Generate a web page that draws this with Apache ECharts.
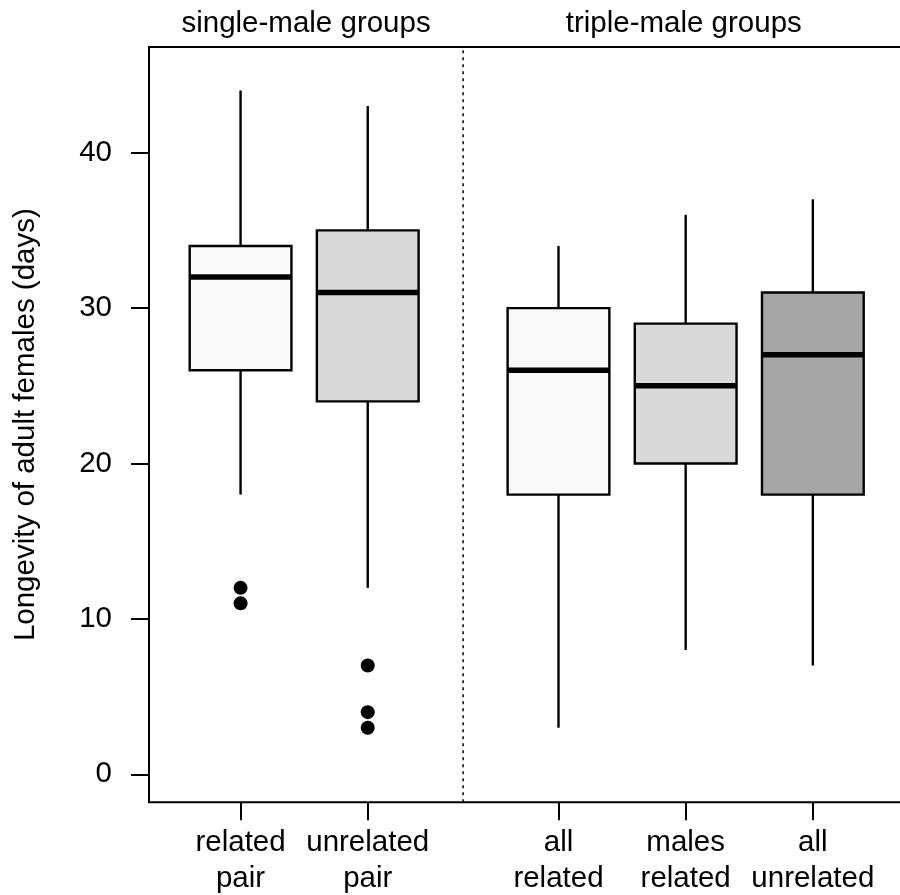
<!DOCTYPE html>
<html>
<head>
<meta charset="utf-8">
<script src="https://cdn.jsdelivr.net/npm/echarts@6/dist/echarts.min.js"></script>
<style>
html,body{margin:0;padding:0;background:#fff;}
#chart{width:900px;height:895px;}
</style>
</head>
<body>
<div id="chart"></div>
<script>
// ---- data ----
const categories = ['related\npair', 'unrelated\npair', 'all\nrelated', 'males\nrelated', 'all\nunrelated'];
const positions = [1, 2, 3.5, 4.5, 5.5];
const whiskerLow = [18, 12, 3, 8, 7];
const q1 = [26, 24, 18, 20, 18];
const median = [32, 31, 26, 25, 27];
const q3 = [34, 35, 30, 29, 31];
const whiskerHigh = [44, 43, 34, 36, 37];
const outlierGroup = [0, 0, 1, 1, 1];
const outlierValues = [12, 11, 7, 4, 3];
const yTicks = [0, 10, 20, 30, 40];
const groupLabels = ['single-male groups', 'triple-male groups'];
const dividerAt = 2.75;

// ---- layout / style ----
const xMin = 0.28, xMax = 6.22;
const yMin = -1.8, yMax = 46.8;
const fills = ['#f9f9f9', '#d9d9d9', '#f9f9f9', '#d9d9d9', '#a6a6a6'];
const FONT = '"Liberation Sans", Arial, Helvetica, sans-serif';
const FS = 29.5;
const halfWidth = 0.4;

const boxData = positions.map((p, i) => [p, whiskerLow[i], q1[i], median[i], q3[i], whiskerHigh[i], i]);
const outlierData = outlierValues.map((v, i) => [positions[outlierGroup[i]], v]);
const groupCenters = [(xMin + dividerAt) / 2, (dividerAt + xMax) / 2];

const chart = echarts.init(document.getElementById('chart'), null, {renderer: 'canvas'});

const option = {
  animation: false,
  backgroundColor: '#fff',
  textStyle: {fontFamily: FONT},
  grid: {left: 149, top: 47, right: -4.4, bottom: 92.7, show: true, borderColor: '#000', borderWidth: 2,
         backgroundColor: 'transparent', containLabel: false, outerBoundsMode: 'none'},
  xAxis: [{
    type: 'value', position: 'bottom', min: xMin, max: xMax,
    splitLine: {show: false},
    axisLine: {show: false, onZero: false},
    axisTick: {show: true, length: 18, lineStyle: {color: '#000', width: 2}, customValues: positions},
    axisLabel: {
      show: true, margin: 23, color: '#000', fontSize: FS, fontFamily: FONT, lineHeight: 35.5,
      customValues: positions,
      formatter: (v) => { const i = positions.findIndex(p => Math.abs(p - v) < 1e-6); return i >= 0 ? categories[i] : ''; }
    }
  }, {
    type: 'value', position: 'top', min: xMin, max: xMax,
    splitLine: {show: false},
    axisLine: {show: false, onZero: false},
    axisTick: {show: false},
    axisLabel: {
      show: true, margin: 8, color: '#000', fontSize: FS, fontFamily: FONT,
      customValues: groupCenters,
      formatter: (v) => { const i = groupCenters.findIndex(p => Math.abs(p - v) < 1e-6); return i >= 0 ? groupLabels[i] : ''; }
    }
  }],
  yAxis: {
    type: 'value', min: yMin, max: yMax,
    name: 'Longevity of adult females (days)', nameLocation: 'middle', nameRotate: 90, nameGap: 108,
    nameTextStyle: {color: '#000', fontSize: FS, fontFamily: FONT},
    splitLine: {show: false},
    axisLine: {show: false, onZero: false},
    axisTick: {show: true, length: 18, lineStyle: {color: '#000', width: 2}, customValues: yTicks},
    axisLabel: {show: true, margin: 37, color: '#000', fontSize: FS, fontFamily: FONT, customValues: yTicks}
  },
  series: [{
    type: 'custom',
    xAxisIndex: 0,
    data: boxData,
    encode: {x: 0, y: [1, 2, 3, 4, 5]},
    clip: false,
    renderItem: function (params, api) {
      const x = api.value(0);
      const idx = api.value(6);
      const pLow = api.coord([x, api.value(1)]);
      const pQ1 = api.coord([x, api.value(2)]);
      const pMed = api.coord([x, api.value(3)]);
      const pQ3 = api.coord([x, api.value(4)]);
      const pHigh = api.coord([x, api.value(5)]);
      const left = api.coord([x - halfWidth, 0])[0];
      const right = api.coord([x + halfWidth, 0])[0];
      const cx = pLow[0];
      return {
        type: 'group',
        children: [
          {type: 'line', shape: {x1: cx, y1: pHigh[1], x2: cx, y2: pQ3[1]}, style: {stroke: '#000', lineWidth: 2.4}},
          {type: 'line', shape: {x1: cx, y1: pQ1[1], x2: cx, y2: pLow[1]}, style: {stroke: '#000', lineWidth: 2.4}},
          {type: 'rect', shape: {x: left, y: pQ3[1], width: right - left, height: pQ1[1] - pQ3[1]}, style: {fill: fills[idx], stroke: '#000', lineWidth: 2.4}},
          {type: 'line', shape: {x1: left, y1: pMed[1], x2: right, y2: pMed[1]}, style: {stroke: '#000', lineWidth: 5.5}}
        ]
      };
    }
  }, {
    type: 'scatter',
    xAxisIndex: 0,
    data: outlierData,
    symbol: 'circle',
    symbolSize: 14,
    itemStyle: {color: '#000', opacity: 1},
    z: 3
  }, {
    type: 'line',
    xAxisIndex: 0,
    data: [[dividerAt, yMin], [dividerAt, yMax]],
    symbol: 'none',
    lineStyle: {color: '#000', width: 1.5, type: [3, 4]},
    z: 1
  }]
};
chart.setOption(option);
</script>
</body>
</html>
